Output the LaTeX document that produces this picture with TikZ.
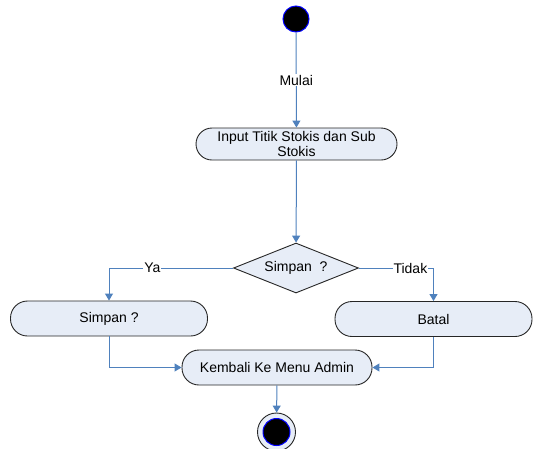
\documentclass[tikz,border=0pt]{standalone}
\usepackage{fontspec}
\setmainfont{Liberation Sans}
\usetikzlibrary{shapes.geometric,arrows.meta}
\definecolor{flowblue}{RGB}{79,129,189}
\definecolor{boxfill}{RGB}{231,237,247}

\begin{document}
\begin{tikzpicture}[x=1pt,y=-1pt,font=\fontsize{14}{15}\selectfont,
    act/.style={draw=black!85,line width=.9pt,fill=boxfill,rounded corners=17pt,
      minimum height=35pt,inner sep=0pt,align=center},
    decision/.style={diamond,aspect=2.5,draw=black!85,line width=.9pt,fill=boxfill,
      minimum width=125pt,minimum height=50pt,inner sep=0pt},
    flow/.style={draw=flowblue,line width=1pt,-{Triangle[length=7pt,width=8pt]}},
    lbl/.style={fill=white,inner sep=1pt},
    startdot/.style={circle,fill=black,draw=blue,line width=1pt,minimum size=26pt,inner sep=0pt},
    endring/.style={circle,fill=boxfill,draw=black!85,line width=.9pt,minimum size=38pt,inner sep=0pt},
    enddot/.style={circle,fill=black,draw=blue,line width=1pt,minimum size=27pt,inner sep=0pt}]
      \useasboundingbox (0,0) rectangle (535,448);
      \node[startdot] (start) at (296,19) {};
      \node[act,minimum width=201pt,minimum height=32pt,rounded corners=16pt] (input) at (296.5,144) {Input Titik Stokis dan Sub\\Stokis};
      \node[decision] (dec) at (296,268) {Simpan\ \ ?};
      \node[act,minimum width=197pt] (simpan) at (109,318.5) {Simpan ?};
      \node[act,minimum width=197pt] (batal) at (433.5,319) {Batal};
      \node[act,minimum width=190pt] (kembali) at (277,367.5) {Kembali Ke Menu Admin};
      \node[endring] (stop) at (276.5,432) {};
      \node[enddot] (stopdot) at (stop) {};
      \draw[flow] (start) -- node[lbl] {Mulai} (input);
      \draw[flow] (input) -- (dec);
      \draw[flow] (dec.west) -- node[lbl,pos=.65] {Ya} (dec.west -| simpan) -- (simpan);
      \draw[flow] (dec.east) -- node[lbl,pos=.69] {Tidak} (dec.east -| batal) -- (batal);
      \draw[flow] (simpan) |- (kembali);
      \draw[flow] (batal) |- (kembali);
      \draw[flow] (kembali) -- (stop);
\end{tikzpicture}
\end{document}
